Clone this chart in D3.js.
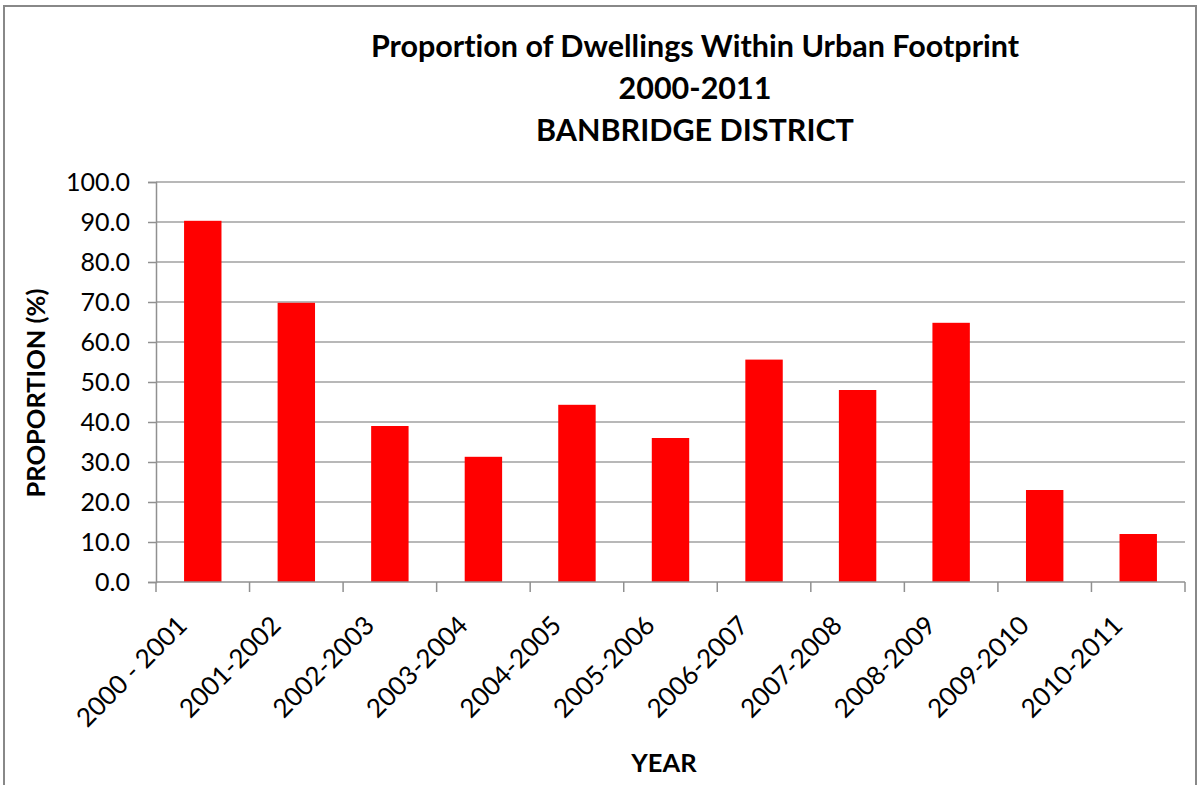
<!DOCTYPE html>
<html>
<head>
    <meta charset="utf-8" />
    <title>Proportion of Dwellings Within Urban Footprint</title>
    <style>
        body { margin: 0; background: #fff; }
        text { font-family: Lato, "Open Sans", sans-serif; fill: #000; font-variant-ligatures: none; }
        .grid line { stroke: #a0a0a0; stroke-width: 1.5px; }
        .axis path, .axis line { stroke: #909090; stroke-width: 1.5px; }
        .axis text { font-size: 25px; }
        .axis .xlabel { font-size: 26px; }
        .title { font-size: 30.5px; font-weight: bold; }
        .axis-title { font-size: 25.5px; font-weight: bold; }
    </style>
</head>
<body>
    <script src="https://d3js.org/d3.v7.min.js"></script>
    <script>
      var width = 1198;
      var height = 785;

      var years = ["2000 - 2001", "2001-2002", "2002-2003", "2003-2004", "2004-2005", "2005-2006",
                   "2006-2007", "2007-2008", "2008-2009", "2009-2010", "2010-2011"];
      var proportion = [90.3, 69.8, 39.0, 31.3, 44.3, 36.0, 55.6, 48.0, 64.8, 23.0, 12.0];
      var yTicks = [0, 10, 20, 30, 40, 50, 60, 70, 80, 90, 100];
      var titleLines = ["Proportion of Dwellings Within Urban Footprint", "2000-2011", "BANBRIDGE DISTRICT"];

      var margin = {left: 156, right: 13, top: 182, bottom: 203};

      var svg = d3.select("body").append("svg")
          .attr("width", width)
          .attr("height", height);

      // chart border
      svg.append("rect")
          .attr("x", 4).attr("y", 6)
          .attr("width", 1192).attr("height", 790)
          .attr("fill", "#fff")
          .attr("stroke", "#888")
          .attr("stroke-width", 2);

      var x = d3.scaleBand()
          .domain(years)
          .range([margin.left, width - margin.right])
          .paddingInner(0.6)
          .paddingOuter(0.3);

      var y = d3.scaleLinear()
          .domain([0, 100])
          .range([height - margin.bottom, margin.top]);

      // gridlines
      svg.append("g")
          .attr("class", "grid")
          .selectAll("line")
          .data(yTicks.slice(1))
          .enter().append("line")
          .attr("x1", margin.left)
          .attr("x2", width - margin.right)
          .attr("y1", function(d) { return y(d); })
          .attr("y2", function(d) { return y(d); });

      svg.append("g")
          .selectAll("rect")
          .data(proportion)
          .enter().append("rect")
          .attr("x", function(d, i) { return x(years[i]); })
          .attr("y", function(d) { return y(d); })
          .attr("width", x.bandwidth())
          .attr("height", function(d) { return y(0) - y(d); })
          .attr("fill", "#ff0000");

      // y axis
      svg.append("g")
          .attr("class", "axis")
          .attr("transform", "translate(" + margin.left + ",0)")
          .call(d3.axisLeft(y).tickValues(yTicks).tickFormat(d3.format(".1f")).tickSize(8).tickPadding(18));

      // x axis: ticks between categories
      var plotW = width - margin.left - margin.right;
      var xAxis = svg.append("g")
          .attr("class", "axis")
          .attr("transform", "translate(0," + y(0) + ")");
      xAxis.append("line")
          .attr("x1", margin.left).attr("x2", width - margin.right)
          .attr("y1", 0).attr("y2", 0);
      xAxis.selectAll(".tick")
          .data(d3.range(years.length + 1))
          .enter().append("line")
          .attr("x1", function(i) { return margin.left + i * plotW / years.length; })
          .attr("x2", function(i) { return margin.left + i * plotW / years.length; })
          .attr("y1", 0).attr("y2", 10);
      xAxis.selectAll("text")
          .data(years)
          .enter().append("text")
          .attr("class", "xlabel")
          .attr("text-anchor", "end")
          .attr("transform", function(d) {
            return "translate(" + (x(d) + x.bandwidth() / 2 - 14) + ",45) rotate(-45)";
          })
          .text(function(d) { return d; });

      // titles
      svg.append("g")
          .selectAll("text")
          .data(titleLines)
          .enter().append("text")
          .attr("class", "title")
          .attr("text-anchor", "middle")
          .attr("x", 695)
          .attr("y", function(d, i) { return 57 + i * 42; })
          .text(function(d) { return d; });

      svg.append("text")
          .attr("class", "axis-title")
          .attr("text-anchor", "middle")
          .attr("transform", "translate(45,393) rotate(-90)")
          .text("PROPORTION (%)");

      svg.append("text")
          .attr("class", "axis-title")
          .attr("text-anchor", "middle")
          .attr("x", 664)
          .attr("y", 772)
          .text("YEAR");
    </script>
</body>
</html>
